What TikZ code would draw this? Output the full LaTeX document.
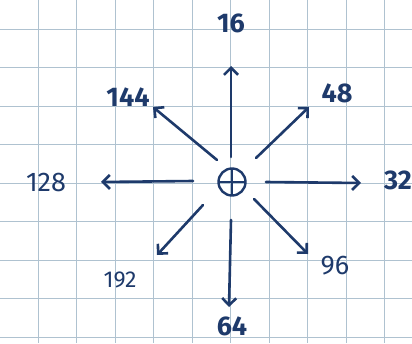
\documentclass[tikz,border=0pt]{standalone}
\usepackage{fontspec}
\setmainfont{Fira Sans}
\usetikzlibrary{arrows.meta}
\definecolor{ink}{HTML}{1E3A6B}
\definecolor{gridc}{HTML}{AFC2D0}
\begin{document}
\begin{tikzpicture}[x=1pt,y=-1pt,
  arr/.style={draw=ink, line width=2.6pt, line cap=round, -{Straight Barb[length=7pt,width=14pt]}},
  lbl/.style={text=ink, font=\fontsize{27}{27}\selectfont, inner sep=0pt},
  boldlbl/.style={lbl, font=\fontsize{27}{27}\selectfont\bfseries},
  hub/.style={circle, draw=ink, line width=2.4pt, minimum size=27pt, inner sep=0pt,
    path picture={\draw[ink, line width=2.2pt]
      (path picture bounding box.north) -- (path picture bounding box.south)
      (path picture bounding box.west) -- (path picture bounding box.east);}}
]
\useasboundingbox (0,0) rectangle (412,343);
\fill[white] (0,0) rectangle (412,343);
\foreach \k in {0,...,10} \draw[gridc, line width=0.9pt] ({38.5*\k-0.5},0) -- ({38.5*\k-0.5},343);
\foreach \j in {0,...,8} \draw[gridc, line width=0.9pt] (0,{29+38.5*\j}) -- (412,{29+38.5*\j});

\node[hub] (c) at (232,182) {};

\node[boldlbl] (l16)  at (231,23)  {16};
\node[boldlbl] (l48)  at (337,93)  {48};
\node[boldlbl] (l32)  at (398,180) {32};
\node[lbl] (l96)  at (335,266) {96};
\node[boldlbl] (l64)  at (232,326) {64};
\node[lbl, font=\fontsize{23}{23}\selectfont] (l192) at (120,280) {192};
\node[lbl] (l128) at (46,182)  {128};
\node[boldlbl] (l144) at (128,97)  {144};

\coordinate (t16) at (231,157);  \coordinate (h16) at (231,66);
\coordinate (t48) at (256,158);  \coordinate (h48) at (309,107);
\coordinate (t32) at (266,182);  \coordinate (h32) at (361,183);
\coordinate (t96) at (254,199);  \coordinate (h96) at (308,254);
\coordinate (t64) at (231,220);  \coordinate (h64) at (229,307);
\coordinate (t192) at (203,205); \coordinate (h192) at (157,255);
\coordinate (t128) at (193,181); \coordinate (h128) at (101,182);
\coordinate (t144) at (217,160); \coordinate (h144) at (153,107);

\foreach \n in {16,48,32,96,64,192,128,144}
  \draw[arr] (t\n) -- (h\n);
\end{tikzpicture}
\end{document}
